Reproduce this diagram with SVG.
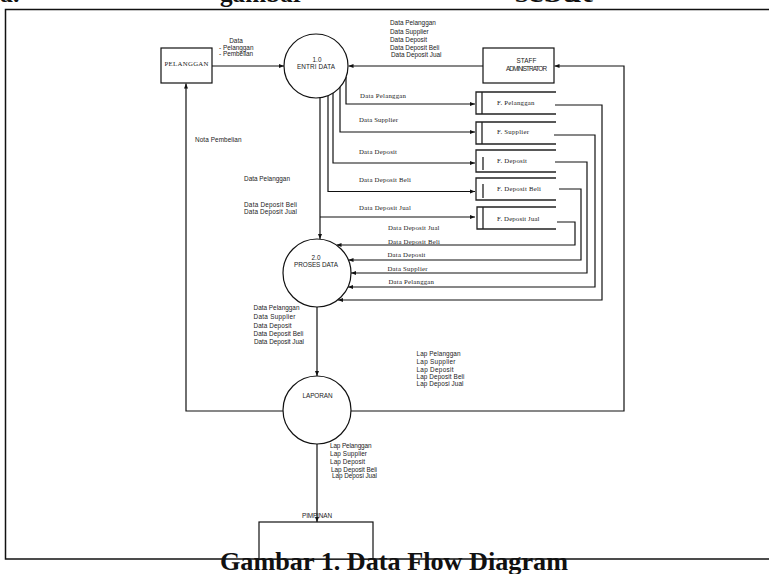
<svg xmlns="http://www.w3.org/2000/svg" width="769" height="574" viewBox="0 0 769 574">
<style>
.s{font-family:"Liberation Sans",Arial,sans-serif;font-size:6.4px;fill:#1a1a1a}
.r{font-family:"Liberation Serif","Times New Roman",serif;font-size:6.8px;fill:#1a1a1a}
.c{text-anchor:middle}
.ln{fill:none;stroke:#111;stroke-width:1.2}
.nd{fill:#fff;stroke:#111;stroke-width:1.2}
.st{fill:none;stroke:#222;stroke-width:1.3}
.big{font-family:"Liberation Serif","Times New Roman",serif;font-weight:bold;fill:#111}
</style>
<defs>
<marker id="a" viewBox="0 0 10 10" refX="10" refY="5" markerWidth="5" markerHeight="5" markerUnits="userSpaceOnUse" orient="auto">
<path d="M0,1 L10,5 L0,9 z" fill="#111"/>
</marker>
</defs>
<rect width="769" height="574" fill="#fff"/>
<g id="page-text">
<text class="big" x="0" y="1.5" font-size="26">a.</text>
<text class="big" x="220" y="1.5" font-size="26" textLength="84" lengthAdjust="spacingAndGlyphs">gambar</text>
<text class="big" x="515" y="1.5" font-size="26" textLength="78" lengthAdjust="spacingAndGlyphs">sebut</text>
</g>
<rect id="frame" x="5.5" y="9.5" width="770" height="549.5" fill="none" stroke="#111" stroke-width="1.5"/>
<g id="connectors">
<path class="ln" d="M212,66 H284" marker-end="url(#a)"/>
<path class="ln" d="M483,66 H348.5" marker-end="url(#a)"/>
<path class="ln" d="M346,77 V104 H475" marker-end="url(#a)"/>
<path class="ln" d="M340,87 V132 H475" marker-end="url(#a)"/>
<path class="ln" d="M333,93 V163 H475" marker-end="url(#a)"/>
<path class="ln" d="M328,96 V191.5 H475" marker-end="url(#a)"/>
<path class="ln" d="M320,217 H475" marker-end="url(#a)"/>
<path class="ln" d="M320,98 V239" marker-end="url(#a)"/>
<path class="ln" d="M557,222 H575 V245 H336.5" marker-end="url(#a)"/>
<path class="ln" d="M559,189 H581 V260 H348.5" marker-end="url(#a)"/>
<path class="ln" d="M555,162 H587 V273 H351" marker-end="url(#a)"/>
<path class="ln" d="M554,135 H595 V287 H348" marker-end="url(#a)"/>
<path class="ln" d="M555,105 H602 V300 H338" marker-end="url(#a)"/>
<path class="ln" d="M317,307 V376" marker-end="url(#a)"/>
<path class="ln" d="M317,444 V522" marker-end="url(#a)"/>
<path class="ln" d="M283,411 H186 V83.5" marker-end="url(#a)"/>
<path class="ln" d="M351,411 H624 V66 H554.5" marker-end="url(#a)"/>
</g>
<g id="labels">
<text class="s c" x="236" y="43" font-size="5.8">Data</text>
<text class="s" x="219" y="49.5" font-size="5.8">- Pelanggan</text>
<text class="s" x="219" y="55.5" font-size="5.8">- Pembelian</text>
<text class="s" x="390" y="25">Data Pelanggan</text>
<text class="s" x="390" y="33.5">Data Supplier</text>
<text class="s" x="390" y="42">Data Deposit</text>
<text class="s" x="390" y="49.5">Data Deposit Beli</text>
<text class="s" x="391" y="56.5">Data Deposit Jual</text>
<text class="s" x="195" y="142" textLength="46.5">Nota Pembelian</text>
<text class="s" x="244" y="181" textLength="46">Data Pelanggan</text>
<text class="s" x="244" y="206.5" textLength="53">Data Deposit Beli</text>
<text class="s" x="244" y="214" textLength="53">Data Deposit Jual</text>
<text class="r" x="360" y="98" textLength="46">Data Pelanggan</text>
<text class="r" x="359" y="122" textLength="39">Data Supplier</text>
<text class="r" x="359" y="154" textLength="38">Data Deposit</text>
<text class="r" x="359" y="182" textLength="52">Data Deposit Beli</text>
<text class="r" x="359" y="210" textLength="52">Data Deposit Jual</text>
<text class="r" x="388" y="229.5" textLength="51.5">Data Deposit Jual</text>
<text class="r" x="388" y="243.5" textLength="52">Data Deposit Beli</text>
<text class="r" x="387.5" y="257" textLength="38">Data Deposit</text>
<text class="r" x="387.5" y="270.5" textLength="40">Data Supplier</text>
<text class="r" x="388.5" y="284" textLength="45.5">Data Pelanggan</text>
<text class="s" x="253.5" y="309.5" textLength="46">Data Pelanggan</text>
<text class="s" x="253.5" y="318.5" textLength="42">Data Supplier</text>
<text class="s" x="253.5" y="328" textLength="38">Data Deposit</text>
<text class="s" x="253.5" y="335.5" textLength="50">Data Deposit Beli</text>
<text class="s" x="254" y="344" textLength="50">Data Deposit Jual</text>
<text class="s" x="416.5" y="356" textLength="44">Lap Pelanggan</text>
<text class="s" x="416.5" y="363.5" textLength="39">Lap Supplier</text>
<text class="s" x="416.5" y="371.5" textLength="37">Lap Deposit</text>
<text class="s" x="416.5" y="378.5" textLength="48">Lap Deposit Beli</text>
<text class="s" x="416.5" y="385.5" textLength="47">Lap Deposi Jual</text>
<text class="s" x="330" y="448" textLength="41.5">Lap Pelanggan</text>
<text class="s" x="330" y="455.5" textLength="37">Lap Supplier</text>
<text class="s" x="330" y="464" textLength="35">Lap Deposit</text>
<text class="s" x="331" y="472" textLength="46">Lap Deposit Beli</text>
<text class="s" x="332" y="478" textLength="45">Lap Deposi Jual</text>
</g>
<g id="pelanggan">
<rect class="nd" x="161" y="48" width="51" height="35"/>
<text class="r c" x="186.5" y="66" font-size="7" textLength="44">PELANGGAN</text>
</g>
<g id="entri-data">
<circle class="nd" cx="316" cy="66" r="32"/>
<text class="s c" x="317" y="62">1.0</text>
<text class="s c" x="316" y="69" textLength="38">ENTRI DATA</text>
</g>
<g id="staff">
<rect class="nd" x="483" y="48" width="71" height="35"/>
<text class="s c" x="526.5" y="62.5">STAFF</text>
<text class="s c" x="526.5" y="70.5" textLength="41">ADMINISTRATOR</text>
</g>
<g id="f-pelanggan">
<path class="st" d="M556,92 H476 V114 H556 M482,92 V114"/>
<text class="r" x="497" y="104.5" textLength="37.5">F. Pelanggan</text>
</g>
<g id="f-supplier">
<path class="st" d="M556,122 H476 V144 H556 M482,122 V144"/>
<text class="r" x="497" y="134" textLength="32">F. Supplier</text>
</g>
<g id="f-deposit">
<path class="st" d="M556,150 H476 V172 H556 M483,157 V170"/>
<text class="r" x="497" y="163" textLength="30">F. Deposit</text>
</g>
<g id="f-deposit-beli">
<path class="st" d="M556,178 H476 V200 H556 M483,184 V198"/>
<text class="r" x="497" y="191" textLength="44">F. Deposit Beli</text>
</g>
<g id="f-deposit-jual">
<path class="st" d="M556,207 H477 V229 H556 M483,207 V229"/>
<text class="r" x="497" y="221" textLength="42.5">F. Deposit Jual</text>
</g>
<g id="proses-data">
<circle class="nd" cx="317" cy="273" r="34"/>
<text class="s c" x="316" y="260">2.0</text>
<text class="s c" x="316" y="267" textLength="44">PROSES DATA</text>
</g>
<g id="laporan">
<circle class="nd" cx="317" cy="410" r="34"/>
<text class="s c" x="317.5" y="397.5" textLength="30">LAPORAN</text>
</g>
<g id="pimpinan">
<rect class="nd" x="259" y="522" width="114" height="37"/>
<text class="s c" x="317" y="518" textLength="30">PIMPINAN</text>
</g>
<text class="big" x="220" y="570" font-size="26" textLength="348" lengthAdjust="spacingAndGlyphs">Gambar 1. Data Flow Diagram</text>
</svg>
